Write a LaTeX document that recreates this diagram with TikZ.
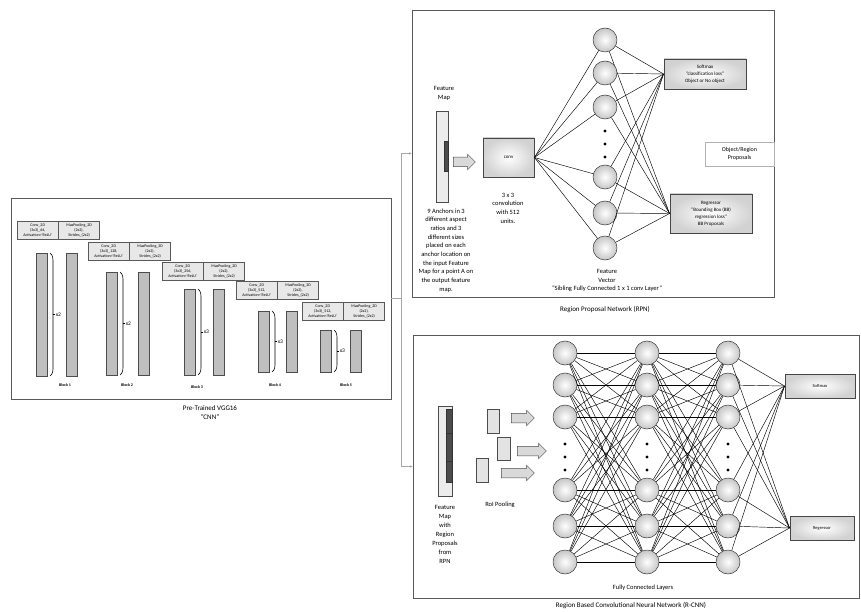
\documentclass[tikz,border=0pt]{standalone}
\usepackage{fontspec}
\setmainfont{Carlito}
\usetikzlibrary{arrows.meta,positioning,shapes.arrows}

\begin{document}
\begin{tikzpicture}[x=1pt, y=-1pt,
  panel/.style={draw=gray!70!black, line width=0.9pt, inner sep=0pt, outer sep=0pt},
  cell/.style={draw=gray!70!black, fill=gray!18, line width=0.4pt, align=center, minimum width=41pt, minimum height=18pt, inner sep=0pt, font=\fontsize{4}{5}\selectfont},
  bar/.style={draw=gray!60!black, fill=gray!50, minimum width=11pt, inner sep=0pt, line width=0.4pt},
  brk/.style={line width=0.6pt},
  mult/.style={font=\fontsize{5.5}{6}\selectfont, inner sep=0.5pt},
  blk/.style={font=\bfseries\fontsize{4}{5}\selectfont},
  caption/.style={font=\fontsize{7}{9}\selectfont, align=center},
  note/.style={font=\fontsize{6.5}{8.7}\selectfont, align=center, inner sep=0pt},
  shadebox/.style={draw=gray!55!black, line width=0.9pt, inner color=white, outer color=gray!35, align=center, inner sep=1pt},
  neuron/.style={circle, draw=gray!45!black, line width=0.5pt, inner color=white, outer color=gray!45, minimum size=24pt, inner sep=0pt},
  wire/.style={line width=0.45pt},
  fmap/.style={draw=gray!60!black, fill=gray!15, inner sep=0pt, line width=0.5pt},
  dark/.style={draw=gray!40!black, fill=gray!60!black, inner sep=0pt, line width=0.3pt},
  blockarrow/.style={single arrow, draw=gray!60!black, fill=gray!30, inner xsep=0pt, inner ysep=4.5pt, single arrow head extend=3pt, line width=0.5pt},
  link/.style={draw=gray!70, line width=0.8pt}
]
\path[fill=white] (0,0) rectangle (861,612);
\useasboundingbox (0,0) rectangle (861,612);

% panels
\node[panel, minimum width=380pt, minimum height=201pt] (vgg) at (201,298.5) {};
\node[panel, minimum width=362pt, minimum height=287pt] (rpn) at (593,153.5) {};
\node[panel, minimum width=446pt, minimum height=263pt] (rcnn) at (636,466.5) {};
\node[caption] (vggcap) at (210,413) {Pre-Trained VGG16\\"CNN"};
\node[caption] (rpncap) at (605,310) {Region Proposal Network (RPN)};
\node[caption] (rcnncap) at (631,606) {Region Based Convolutional Neural Network (R-CNN)};

% VGG16 blocks
\foreach \n/\hx/\hy/\la/\ra/\t/\b/\m/\lx/\ly/\k in {1/17/221/36/66/253/376/2/65/385/64, 2/88/242/106/138/272/375/2/127/385/128, 3/162/262/184/213/289/375/3/197/387/256, 4/236/281/258/286/311/372/3/275/385/512, 5/302/302/320/350/330/372/3/346/385/512} {
  \node[cell, anchor=north west] (c\n) at (\hx,\hy) {Conv\_2D\\(3x3)\_\k,\\Activation='ReLU'};
  \node[cell, anchor=north west] (m\n) at (c\n.north east) {MaxPooling\_2D\\(2x2),\\Strides\_(2x2)};
  \node[bar, anchor=north west, minimum height=\b-\t] (l\n) at (\la,\t) {};
  \node[bar, anchor=north west, minimum height=\b-\t] (r\n) at (\ra,\t) {};
  \draw[brk] ({\la+14},\t) .. controls ({\la+17},{\t+3}) .. ({\la+17},{\t+12}) -- ({\la+17},{\b-12}) .. controls ({\la+17},{\b-3}) .. ({\la+14},\b);
  \draw[brk] ({\la+17},{(\t+\b)/2}) -- ({\la+19},{(\t+\b)/2}) node[mult, right] (x\n) {x\m};
  \node[blk] (bl\n) at (\lx,\ly) {Block \n};
}

% links to the two heads
\coordinate (split) at (401,298.5);
\draw[link] (vgg.east) -- (split);
\draw[link, -{Latex[length=3pt,width=2.5pt]}] (split) |- (rpn.west);
\draw[link, -{Latex[length=3pt,width=2.5pt]}] (split) |- (rcnn.west);

% RPN
\node[note] (fmlab) at (444,93.5) {Feature\\Map};
\node[fmap, minimum width=12pt, minimum height=91pt] (fm) at (442,156.5) {};
\node[dark, minimum width=4pt, minimum height=30pt] (anc) at (446,156) {};
\node[blockarrow, minimum height=22pt] (fmarr) at (462,162) {};
\node[shadebox, minimum width=51pt, minimum height=39pt, font=\fontsize{5}{6}\selectfont] (conv) at (508.5,157.5) {conv};
\node[note] (convlab) at (508,208) {3 x 3\\convolution\\with 512\\units.};
\node[note] (anclab) at (446,250.5) {9 Anchors in 3\\different aspect\\ratios and 3\\different sizes\\placed on each\\anchor location on\\the input Feature\\Map for a point A on\\the output feature\\map.};
\node[shadebox, minimum width=82pt, minimum height=30pt, font=\fontsize{5}{7}\selectfont] (rsm) at (705,74) {Softmax\\"classification loss"\\Object or No object};
\node[shadebox, minimum width=82pt, minimum height=39pt, font=\fontsize{5}{7}\selectfont] (rreg) at (711,213.5) {Regressor\\"Bounding Box (BB)\\regression loss"\\BB Proposals};
\node[draw=gray!60, line width=0.5pt, minimum width=69pt, minimum height=24pt, align=center, font=\fontsize{6}{7.5}\selectfont, inner sep=0pt] (prop) at (739.5,154) {Object/Region\\Proposals};
\foreach \i/\y in {1/40,2/73,3/107,4/177,5/213,6/248} {
  \draw[wire] (conv.east) -- (605,\y);
  \node[neuron] (p\i) at (605,\y) {};
  \draw[wire] (p\i) -- (rsm.west);
  \draw[wire] (p\i) -- (rreg.west);
}
\foreach \y in {131,144,157} \fill (605,\y) circle (1.7);
\node[note] (fvlab) at (607,280.5) {Feature\\Vector\\"Sibling Fully Connected 1 x 1 conv Layer"};

% R-CNN
\node[fmap, minimum width=14pt, minimum height=90pt] (rfm) at (445,451) {};
\node[dark, minimum width=6pt, minimum height=24pt] (s1) at (449,421) {};
\node[dark, minimum width=6pt, minimum height=28pt] (s2) at (449,447) {};
\node[dark, minimum width=6pt, minimum height=21pt] (s3) at (449,471.5) {};
\node[note, font=\fontsize{6.5}{9}\selectfont] (rfmlab) at (445,534) {Feature\\Map\\with\\Region\\Proposals\\from\\RPN};
\node[fmap, fill=gray!22, minimum width=12pt, minimum height=24pt] (roi1) at (493,421) {};
\node[fmap, fill=gray!22, minimum width=13pt, minimum height=23pt] (roi2) at (503.5,448.5) {};
\node[fmap, fill=gray!22, minimum width=12pt, minimum height=24pt] (roi3) at (482,470) {};
\node[blockarrow, minimum height=23pt] (ra1) at (520.5,418) {};
\node[blockarrow, minimum height=29pt] (ra2) at (529.5,451) {};
\node[blockarrow, minimum height=33pt] (ra3) at (515.5,473) {};
\node[note] (roilab) at (500,505) {RoI Pooling};
\node[shadebox, minimum width=70pt, minimum height=24pt, font=\fontsize{4.5}{6}\selectfont] (csm) at (820,386) {Softmax};
\node[shadebox, minimum width=64pt, minimum height=24pt, font=\fontsize{4.5}{6}\selectfont] (creg) at (822,528) {Regressor};
\foreach \L/\x in {1/565,2/647,3/728} {
  \foreach \i/\y in {1/353,2/385,3/417,4/490,5/526,6/562}
    \node[neuron] (h\L\i) at (\x,\y) {};
  \foreach \y in {444,457,470} \fill (\x,\y) circle (1.7);
}
\foreach \i in {1,...,6} {
  \foreach \j in {1,...,6} {
    \draw[wire] (h1\i) -- (h2\j);
    \draw[wire] (h2\i) -- (h3\j);
  }
  \draw[wire] (h3\i) -- (csm.west);
  \draw[wire] (h3\i) -- (creg.west);
}
\node[note] (fclab) at (643,588) {Fully Connected Layers};
\end{tikzpicture}
\end{document}
